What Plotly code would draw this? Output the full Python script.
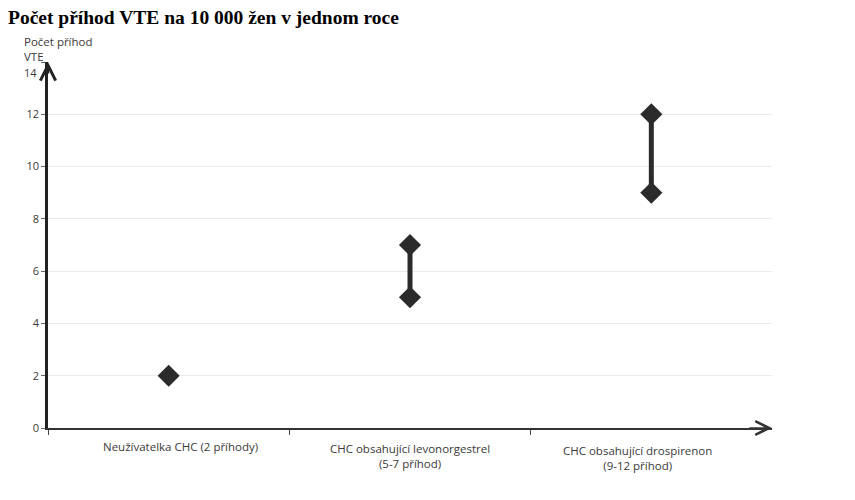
import plotly.graph_objects as go

# Data
categories = ["Neužívatelka CHC (2 příhody)",
              "CHC obsahující levonorgestrel<br>(5-7 příhod)",
              "CHC obsahující drospirenon<br>(9-12 příhod)"]
low_values = [2, 5, 9]
high_values = [2, 7, 12]
y_ticks = [0, 2, 4, 6, 8, 10, 12, 14]

title_text = "<b>Počet příhod VTE na 10 000 žen v jednom roce</b>"
y_title = "Počet příhod<br>VTE"

# label nudges (pixels) to follow the reference layout
label_xshift = [12, 0, -14]
label_yshift = [0, -2, -4]

positions = [i + 0.5 for i in range(len(categories))]
dark = "#2b2b2b"
txt = "#3a3a3a"

fig = go.Figure()
for xp, lo, hi in zip(positions, low_values, high_values):
    ys = [lo] if lo == hi else [lo, hi]
    fig.add_trace(go.Scatter(
        x=[xp] * len(ys), y=ys, mode="lines+markers",
        line=dict(color=dark, width=5),
        marker=dict(symbol="diamond", size=17, color=dark),
        showlegend=False, hoverinfo="skip"))

# page has an 8px body margin, so margins are offset accordingly
fig.update_layout(
    width=855, height=500,
    margin=dict(l=40, r=91, t=54, b=80),
    paper_bgcolor="white", plot_bgcolor="white",
    font=dict(family="Open Sans", size=11, color=txt),
    title=dict(text=title_text, x=0, xref="container", xanchor="left",
               y=0.996, yref="container", yanchor="top", pad=dict(t=0, l=0),
               font=dict(family="Liberation Serif", size=19.5, color="black")),
)

fig.update_xaxes(
    range=[0, len(categories)], tickvals=positions, ticktext=[""] * len(categories),
    showgrid=False, zeroline=False, showline=True, linecolor="#333", linewidth=1.5,
    ticks="",
    minor=dict(tickvals=[0, 1, 2], ticks="outside", ticklen=5, tickcolor="#444"),
    fixedrange=True)
fig.update_yaxes(
    range=[0, 14], tickvals=y_ticks,
    ticktext=[str(v) if v != 14 else "" for v in y_ticks],
    showgrid=True, gridcolor="#ebebeb", gridwidth=1.2,
    zeroline=False, showline=True, linecolor="#222", linewidth=2.5,
    ticks="outside", ticklen=4, tickcolor="#666",
    tickfont=dict(family="Open Sans", size=11, color=txt),
    fixedrange=True)

# category labels
for xp, lab, dx, dy in zip(positions, categories, label_xshift, label_yshift):
    fig.add_annotation(x=xp, y=0, xref="x", yref="y", text=lab, showarrow=False,
                       yanchor="top", xanchor="center", yshift=-9 + dy, xshift=dx,
                       font=dict(family="Open Sans", size=11.5, color=txt))

# top tick label sits just below the arrow tip in the reference
fig.add_annotation(x=0, y=y_ticks[-1], xref="x", yref="y", text=str(y_ticks[-1]),
                   showarrow=False, xanchor="right", yanchor="middle",
                   xshift=-9, yshift=-10,
                   font=dict(family="Open Sans", size=11, color=txt))

# axis arrowheads
fig.add_annotation(x=0, y=14, ax=0, ay=13.5, xref="x", yref="y", axref="x", ayref="y",
                   showarrow=True, arrowhead=5, arrowsize=1.2, arrowwidth=2.5,
                   arrowcolor="#222", text="")
fig.add_annotation(x=len(categories), y=0, ax=len(categories) - 0.1, ay=0,
                   xref="x", yref="y", axref="x", ayref="y",
                   showarrow=True, arrowhead=5, arrowsize=1.8, arrowwidth=1.5,
                   arrowcolor="#333", text="")
# y axis title
fig.add_annotation(x=-26 / 724, y=1 + 30 / 366, xref="paper", yref="paper",
                   text=y_title, showarrow=False, align="left",
                   xanchor="left", yanchor="top",
                   font=dict(family="Open Sans", size=11.5, color=txt))

fig.write_html("out.html")
